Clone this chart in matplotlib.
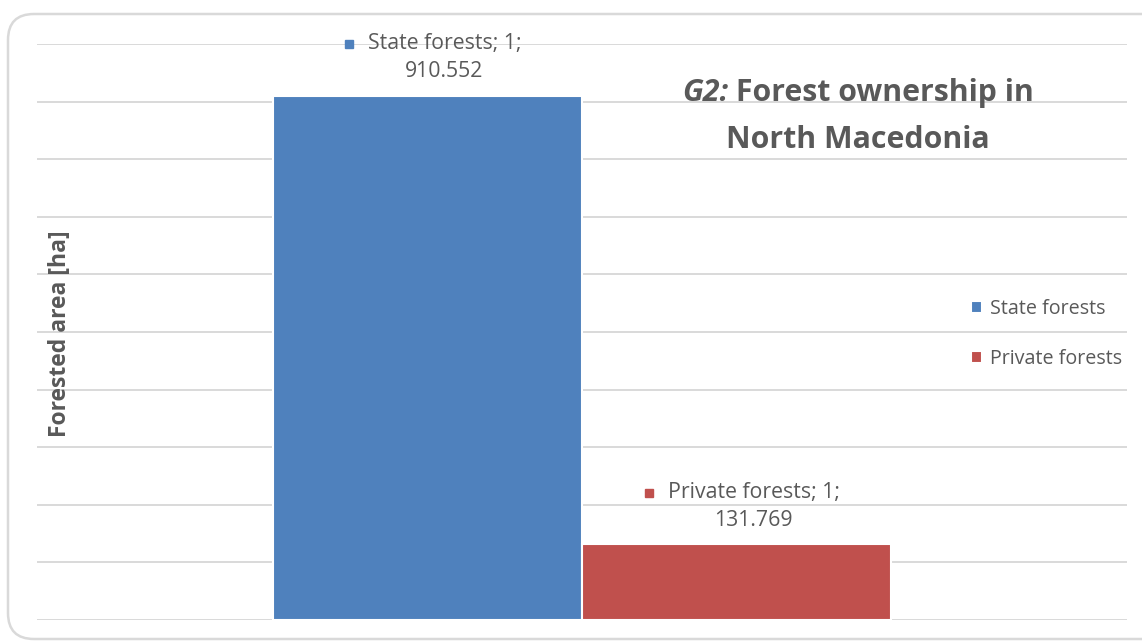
import matplotlib

matplotlib.use("Agg")
import matplotlib.pyplot as plt
import numpy as np
from matplotlib.patches import FancyBboxPatch
from matplotlib.transforms import IdentityTransform

# data
series = ["State forests", "Private forests"]
values_kha = [910.552, 131.769]
colors = ["#4F81BD", "#C0504D"]
category = "1"

plt.rcParams["font.family"] = ["Open Sans", "DejaVu Sans"]
text_color = "#595959"
grid_color = "#D9D9D9"
W, H = 1142, 641

fig = plt.figure(figsize=(W / 100, H / 100), dpi=100)

# rounded chart frame
frame = FancyBboxPatch(
    (8, 2),
    1170,
    625,
    boxstyle="round,pad=0,rounding_size=26",
    transform=IdentityTransform(),
    facecolor="white",
    edgecolor=grid_color,
    linewidth=1.8,
    zorder=0,
)
fig.add_artist(frame)

ax = fig.add_axes([37 / W, 21 / H, 1090 / W, 576 / H])
ax.set_facecolor("none")

width = 0.2835
offsets = [-width / 2, width / 2]
for name, val, col, off in zip(series, values_kha, colors, offsets):
    ax.bar(
        off,
        val * 1000,
        width=width,
        color=col,
        edgecolor="white",
        linewidth=1.5,
        label=name,
        zorder=3,
    )

ax.set_xlim(-0.5, 0.5)
ax.set_ylim(0, 1_000_000)
ax.set_yticks(np.arange(0, 1_000_001, 100_000))
ax.set_xticks([])
ax.tick_params(axis="y", length=0, labelleft=False)
ax.yaxis.grid(True, color=grid_color, linewidth=1.4, zorder=0)
ax.set_axisbelow(True)
for s in ax.spines.values():
    s.set_visible(False)

# axis title
fig.text(
    60 / W,
    1 - 334 / H,
    "Forested area [ha]",
    rotation=90,
    ha="center",
    va="center",
    fontsize=16.5,
    fontweight="bold",
    color=text_color,
)

# data labels with legend key
labels = []
for name, val, col, off in zip(series, values_kha, colors, offsets):
    t = ax.annotate(
        f"{name}; {category};\n{val:.3f}",
        xy=(off, val * 1000),
        xytext=(17, 38),
        textcoords="offset pixels",
        ha="center",
        va="center",
        multialignment="center",
        fontsize=15.3,
        linespacing=1.45,
        color=text_color,
        zorder=5,
    )
    labels.append((t, col))

# title, first part italic
fs_title = 21.8
title_y = 1 - 93 / H
t1 = fig.text(0, title_y, "G2:", fontsize=fs_title, fontweight="bold",
              style="italic", color=text_color, va="center")
t2 = fig.text(0, title_y, " Forest ownership in", fontsize=fs_title,
              fontweight="bold", color=text_color, va="center")
fig.text(858 / W, 1 - 140 / H, "North Macedonia", fontsize=fs_title,
         fontweight="bold", color=text_color, ha="center", va="center")

fig.canvas.draw()
renderer = fig.canvas.get_renderer()
w1 = t1.get_window_extent(renderer).width
w2 = t2.get_window_extent(renderer).width
x0 = 858 - (w1 + w2) / 2
t1.set_x(x0 / W)
t2.set_x((x0 + w1) / W)

for t, col in labels:
    bb = t.get_window_extent(renderer)
    line_h = bb.height / 2
    fig.add_artist(
        plt.Line2D(
            [bb.x0 - 19],
            [bb.y1 - line_h / 2 + 1],
            marker="s",
            markersize=6,
            color=col,
            linestyle="none",
            transform=IdentityTransform(),
        )
    )

ax.legend(
    loc="center left",
    bbox_to_anchor=(971 / W, 1 - 334 / H),
    bbox_transform=fig.transFigure,
    frameon=False,
    borderpad=0,
    borderaxespad=0,
    fontsize=14.2,
    handlelength=0.55,
    handleheight=0.55,
    handletextpad=0.4,
    labelspacing=1.5,
    labelcolor=text_color,
)

fig.savefig("out.png", dpi=100)
